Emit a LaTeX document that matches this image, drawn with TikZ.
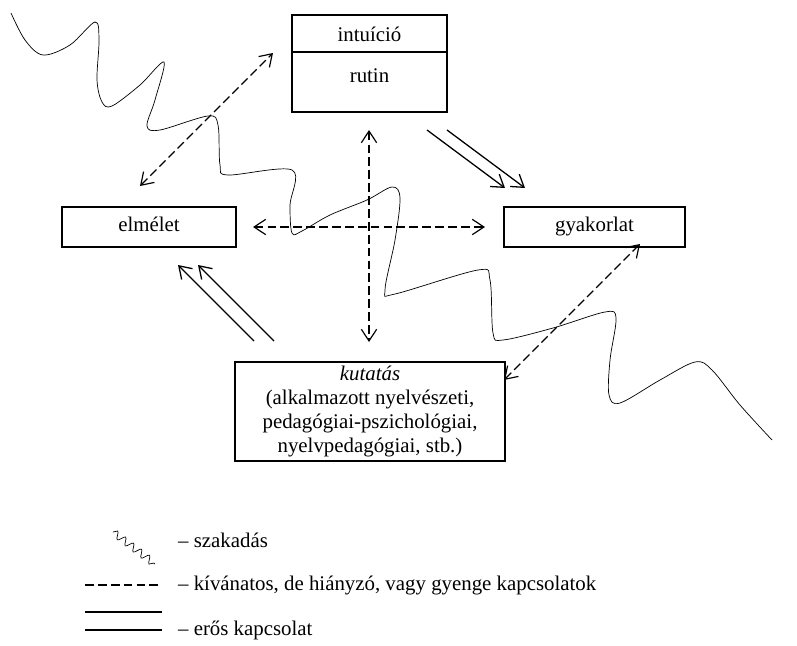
\documentclass[tikz,border=0pt]{standalone}
\usepackage{fontspec}
\setmainfont{Liberation Serif}
\usetikzlibrary{arrows.meta,decorations.pathmorphing}

\begin{document}
\begin{tikzpicture}[x=0.03cm,y=-0.03cm,
    box/.style={draw, line width=1.4pt, inner sep=0pt},
    weak/.style={dash pattern=on 7.5pt off 3.5pt, line width=1pt,
        {Straight Barb[length=3.5mm,width=4.6mm]}-{Straight Barb[length=3.5mm,width=4.6mm]}},
    strong/.style={line width=1.1pt, -{Straight Barb[length=3.5mm,width=4.6mm]}},
    txt/.style={font=\fontsize{17.8}{20.5}\selectfont}]
\useasboundingbox (0,0) rectangle (797,645);

\node[box, minimum width=4.65cm, minimum height=2.91cm] (top) at (369.5,63.5) {};
\draw[line width=1.4pt] ([yshift=-1.14cm]top.north west) -- ([yshift=-1.14cm]top.north east);
\node[txt] (intu) at (369.5,34) {intuíció};
\node[txt] (rutin) at (369.5,76) {rutin};

\node[box, txt, text height=0.92em, text depth=0.2em, minimum width=5.22cm, minimum height=1.2cm] (elm) at (149,227) {elmélet};
\node[box, txt, text height=0.92em, text depth=0.2em, minimum width=5.43cm, minimum height=1.2cm] (gyak) at (594.5,227) {gyakorlat};
\node[box, txt, minimum width=8.1cm, minimum height=2.97cm, align=center] (kut) at (370,411.5)
    {\textit{kutatás}\\(alkalmazott nyelvészeti,\\pedagógiai-pszichológiai,\\nyelvpedagógiai, stb.)};

\draw[line width=0.6pt] plot[smooth, tension=0.55] coordinates {
    (11,13) (25,40) (43,55) (70,45) (95,22) (99,40) (97,80) (102,102) (112,106)
    (140,85) (164,62) (155,100) (147,126) (160,130) (208,116) (218,125) (220,165)
    (228,175) (292,170) (290,205) (292,233) (302,231) (330,215) (367,200) (392,187)
    (400,198) (395,240) (385,290) (395,294) (478,270) (490,280) (493,333) (503,340)
    (553,328) (605,312) (616,318) (610,360) (609,395) (620,403) (660,380) (695,362)
    (712,370) (740,405) (772,440)};

\coordinate (w1) at (140,186);
\coordinate (w2) at (273,53);
\coordinate (w3) at (253,227);
\coordinate (w4) at (485,227);
\coordinate (w5) at (369,130);
\coordinate (w6) at (369,342);
\coordinate (w7) at (640,244);
\coordinate (w8) at (504,380);
\draw[weak] (w1) -- (w2);
\draw[weak] (w3) -- (w4);
\draw[weak] (w5) -- (w6);
\draw[weak] (w7) -- (w8);

\coordinate (s1) at (427,130);
\coordinate (s2) at (505,188);
\coordinate (s3) at (254,341);
\coordinate (s4) at (178,265);
\foreach \d in {0,0.6} {
    \draw[strong] ([xshift=\d cm]s1) -- ([xshift=\d cm]s2);
    \draw[strong] ([xshift=\d cm]s3) -- ([xshift=\d cm]s4);
}

\coordinate (l1) at (113,532);
\coordinate (l2) at (155,564);
\coordinate (l3) at (85,585);
\coordinate (l4) at (162,585);
\coordinate (l5) at (85,612);
\coordinate (l6) at (162,612);
\draw[line width=0.6pt, decorate, decoration={snake, segment length=3mm, amplitude=1.1mm}] (l1) -- (l2);
\draw[line width=1pt, dash pattern=on 7.5pt off 3.5pt] (l3) -- (l4);
\foreach \d in {0,0.54} {
    \draw[line width=1.2pt] ([yshift=-\d cm]l5) -- ([yshift=-\d cm]l6);
}
\node[txt, anchor=west] (leg1) at (174,540) {– szakadás};
\node[txt, anchor=west] (leg2) at (174,585) {– kívánatos, de hiányzó, vagy gyenge kapcsolatok};
\node[txt, anchor=west] (leg3) at (174,630) {– erős kapcsolat};
\end{tikzpicture}
\end{document}
